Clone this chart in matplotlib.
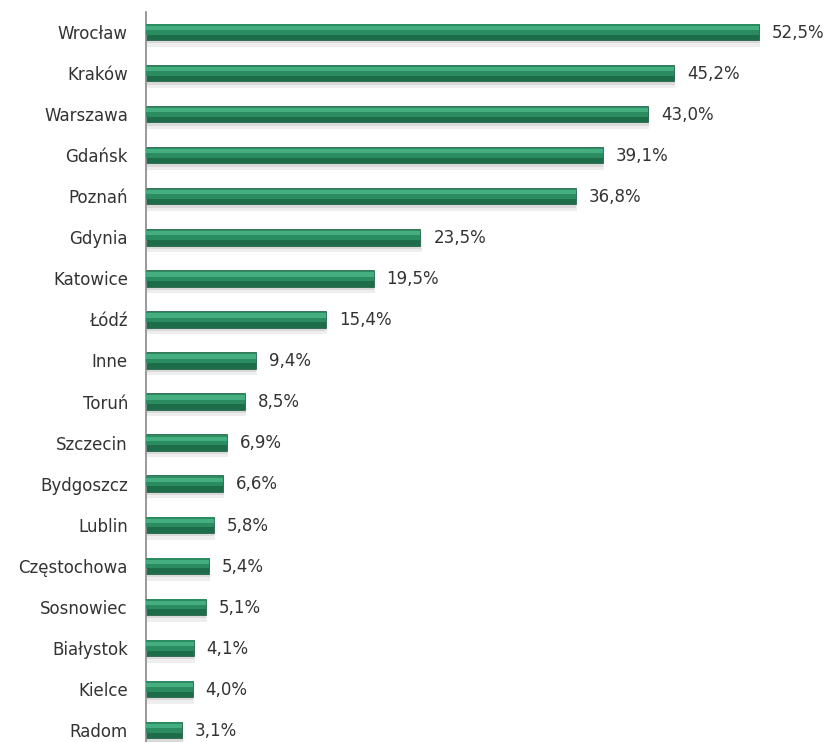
import matplotlib.pyplot as plt
import numpy as np

miasta = ["Wrocław", "Kraków", "Warszawa", "Gdańsk", "Poznań", "Gdynia", "Katowice",
          "Łódź", "Inne", "Toruń", "Szczecin", "Bydgoszcz", "Lublin", "Częstochowa",
          "Sosnowiec", "Białystok", "Kielce", "Radom"]
procent = [52.5, 45.2, 43.0, 39.1, 36.8, 23.5, 19.5, 15.4, 9.4, 8.5, 6.9, 6.6, 5.8,
           5.4, 5.1, 4.1, 4.0, 3.1]
etykiety = ["52,5%", "45,2%", "43,0%", "39,1%", "36,8%", "23,5%", "19,5%", "15,4%",
            "9,4%", "8,5%", "6,9%", "6,6%", "5,8%", "5,4%", "5,1%", "4,1%", "4,0%", "3,1%"]

plt.rcParams['font.family'] = ['DejaVu Sans']

fig = plt.figure(figsize=(8.3, 7.42), dpi=100)
ax = fig.add_axes([146 / 830, 0, 1 - 146 / 830, 1])

y = np.arange(len(miasta))
h = 0.40

# cien pod paskiem (miekki)
ax.barh(y + 0.16, procent, height=h, left=0.1, color='#eeeeee', zorder=1)
ax.barh(y + 0.08, procent, height=h, left=0.05, color='#d9d9d9', zorder=1)
# glowny pasek - ciemny dol
ax.barh(y, procent, height=h, color='#1d6c4a', edgecolor='#175a3d', linewidth=0.5, zorder=2)
# gorna czesc jasniejsza
ax.barh(y - h * 0.15, procent, height=h * 0.62, color='#2a8c60', zorder=3)
# jasny pas (efekt 3D)
ax.barh(y - h * 0.24, procent, height=h * 0.26, color='#45ae80', zorder=4)

for i, (v, t) in enumerate(zip(procent, etykiety)):
    ax.text(v + 1.1, i + 0.02, t, va='center', ha='left', fontsize=12, color='#333333')

px = 41.06
ax.set_xlim(0, (830 - 146) / 11.68)
ax.set_ylim((742 - 32) / px, -32 / px)
ax.set_yticks(y)
ax.set_yticklabels(miasta, fontsize=12, color='#333333')
ax.tick_params(axis='y', length=0, pad=13)
ax.set_xticks([])
for s in ['top', 'right', 'bottom']:
    ax.spines[s].set_visible(False)
ax.spines['left'].set_color('#888888')
ax.spines['left'].set_linewidth(1.2)
ax.spines['left'].set_bounds(-20 / px, (742 - 32) / px)
ax.patch.set_visible(False)

fig.savefig("out.png", dpi=100)
